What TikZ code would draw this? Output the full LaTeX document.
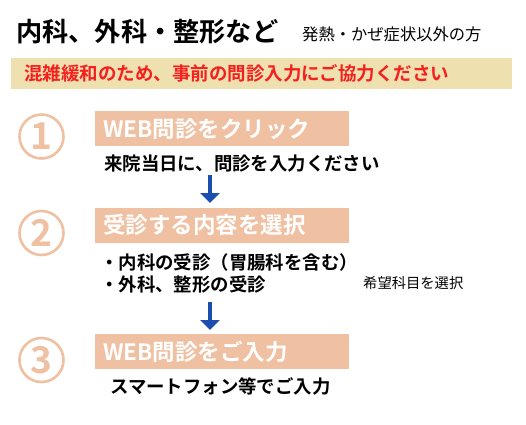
\documentclass[tikz,border=0pt]{standalone}
\usepackage{fontspec}
\setmainfont{Noto Sans CJK JP}
\newfontfamily\jpb{Noto Sans CJK JP Bold}
\newfontfamily\jpr{Noto Sans CJK JP}
\usetikzlibrary{arrows.meta}
\definecolor{peach}{HTML}{EFC0A2}
\definecolor{banner}{HTML}{EFE0B0}
\definecolor{redtxt}{HTML}{F5201E}
\definecolor{arrowblue}{HTML}{1A4FB0}
\begin{document}
\begin{tikzpicture}[x=1pt,y=-1pt,
  numcircle/.style={circle,draw=peach,line width=2.6pt,minimum size=44pt,inner sep=0pt,
    text=peach,font=\jpb\fontsize{37}{37}\selectfont},
  stepbox/.style={fill=peach,minimum width=254pt,minimum height=35pt,inner sep=0pt},
  boxtext/.style={anchor=west,text=white,font=\jpb\fontsize{22.5}{22.5}\selectfont,inner sep=0pt},
  bodytext/.style={anchor=west,text=black,font=\jpb\fontsize{18.4}{18.4}\selectfont,inner sep=0pt},
  flowarrow/.style={draw=arrowblue,line width=4pt,-{Triangle[length=10pt,width=19pt]}}
]
\useasboundingbox (0,0) rectangle (526,424);
\fill[white] (0,0) rectangle (526,424);
% title
\node[anchor=west,inner sep=0pt,font=\jpb\fontsize{26.2}{26.2}\selectfont] (title) at (16,32) {内科、外科・整形など};
\node[anchor=west,inner sep=0pt,font=\jpr\fontsize{16.3}{16.3}\selectfont] (subtitle) at (302,34) {発熱・かぜ症状以外の方};
% banner
\node[fill=banner,minimum width=501pt,minimum height=31pt,inner sep=0pt,anchor=north west] (banner) at (11,58) {};
\node[anchor=west,inner sep=0pt,text=redtxt,font=\jpb\fontsize{18.5}{18.5}\selectfont] (bannertext) at (24,73.5) {混雑緩和のため、事前の問診入力にご協力ください};
% step 1
\node[numcircle] (c1) at (41.5,136.5) {1};
\node[stepbox,anchor=north west] (b1) at (95,111) {};
\node[boxtext] (b1t) at (103,129) {WEB問診をクリック};
\node[bodytext] (t1) at (104,164) {来院当日に、問診を入力ください};
\coordinate (a1s) at (210,175);
\coordinate (a1e) at (210,203);
\draw[flowarrow] (a1s) -- (a1e);
% step 2
\node[numcircle] (c2) at (41.5,233) {2};
\node[stepbox,anchor=north west] (b2) at (95,207.5) {};
\node[boxtext] (b2t) at (103,225) {受診する内容を選択};
\node[bodytext] (t2a) at (100,262) {・内科の受診（胃腸科を含む）};
\node[bodytext] (t2b) at (100,285) {・外科、整形の受診};
\node[anchor=west,inner sep=0pt,font=\jpr\fontsize{14.3}{14.3}\selectfont] (t2c) at (363,283) {希望科目を選択};
\coordinate (a2s) at (210,302);
\coordinate (a2e) at (210,330);
\draw[flowarrow] (a2s) -- (a2e);
% step 3
\node[numcircle] (c3) at (41.5,360) {3};
\node[stepbox,anchor=north west] (b3) at (95,334) {};
\node[boxtext] (b3t) at (103,352) {WEB問診をご入力};
\node[bodytext] (t3) at (110,386) {スマートフォン等でご入力};
\end{tikzpicture}
\end{document}
